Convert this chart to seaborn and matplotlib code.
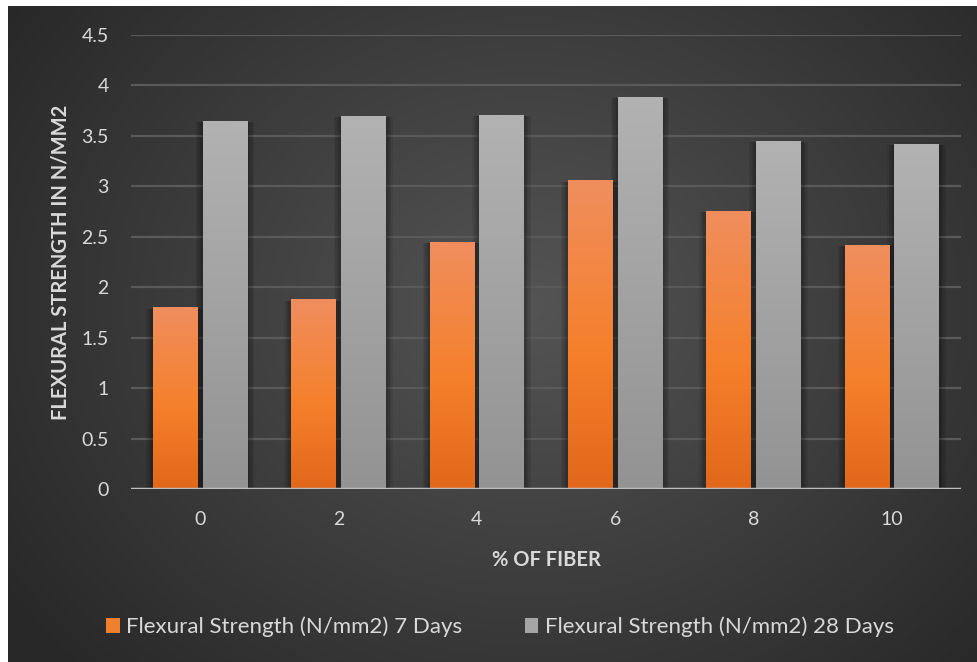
import numpy as np
import pandas as pd
import matplotlib
matplotlib.use("Agg")
import matplotlib.pyplot as plt
import matplotlib.patheffects as pe
from matplotlib.colors import LinearSegmentedColormap
from matplotlib.patches import Patch
import seaborn as sns

fiber = ["0", "2", "4", "6", "8", "10"]
days7 = [1.80, 1.88, 2.45, 3.06, 2.76, 2.42]
days28 = [3.65, 3.70, 3.71, 3.89, 3.45, 3.42]
series = ["Flexural Strength (N/mm2) 7 Days", "Flexural Strength (N/mm2) 28 Days"]
yticks = [0, 0.5, 1, 1.5, 2, 2.5, 3, 3.5, 4, 4.5]

df = pd.DataFrame({
    "fiber": fiber * 2,
    "value": days7 + days28,
    "series": [series[0]] * len(fiber) + [series[1]] * len(fiber),
})

sns.set_theme(style="white")
plt.rcParams["font.family"] = ["Lato", "DejaVu Sans"]

W, H = 978, 662
fig = plt.figure(figsize=(W / 100, H / 100), dpi=100, facecolor="white")

# radial dark background panel
bg = fig.add_axes([8 / W, 0, 970 / W, 656 / H])
bg.set_axis_off()
yy, xx = np.mgrid[0:656, 0:970]
cx, cy = 520, 300
r = np.sqrt(((xx - cx) / 620) ** 2 + ((yy - cy) / 520) ** 2)
shade = np.clip(0.33 - 0.17 * r, 0.16, 0.33)
bg.imshow(np.dstack([shade] * 3), aspect="auto", extent=[0, 1, 0, 1], origin="upper")
bg.set_xlim(0, 1)
bg.set_ylim(0, 1)

ax = fig.add_axes([131 / W, (H - 489) / H, 830 / W, (489 - 35) / H])
ax.patch.set_alpha(0)

palette = {series[0]: "#F07F2E", series[1]: "#A5A5A5"}
sns.barplot(data=df, x="fiber", y="value", hue="series", order=fiber,
            hue_order=series, palette=palette, width=0.72, gap=0.1,
            saturation=1, ax=ax, legend=False, zorder=3,
            edgecolor="none", linewidth=0)

orange_cmap = LinearSegmentedColormap.from_list(
    "og", [(0.0, "#E2671A"), (0.45, "#F5802B"), (1.0, "#F08E5E")])
gray_cmap = LinearSegmentedColormap.from_list(
    "gg", [(0.0, "#939393"), (1.0, "#B2B2B2")])

# soft glow-like shadow around each bar
soft_shadow = []
for d in (1, 2, 3, 4, 5):
    for sx in (-d, d):
        soft_shadow.append(pe.SimplePatchShadow(offset=(sx, -1), shadow_rgbFace="black",
                                                alpha=0.07))
soft_shadow.append(pe.Normal())

grad = np.linspace(0, 1, 256).reshape(-1, 1)
for i, bar in enumerate(ax.patches):
    x0, y0 = bar.get_x(), bar.get_y()
    w, h = bar.get_width(), bar.get_height()
    if h <= 0:
        continue
    cmap = orange_cmap if i < len(fiber) else gray_cmap
    bar.set_edgecolor("none")
    bar.set_linewidth(0)
    bar.set_path_effects(soft_shadow)
    im = ax.imshow(grad, cmap=cmap, aspect="auto", origin="lower",
                   extent=[x0, x0 + w, y0, y0 + h], zorder=4)
    im.set_clip_path(bar)

ax.set_xlim(-0.5, len(fiber) - 0.5)
ax.set_ylim(0, 4.5)
ax.set_yticks(yticks)
ax.set_yticklabels([f"{v:g}" for v in yticks])

for y in yticks[1:]:
    ax.axhline(y, color="#5A5A5A", lw=1.6, zorder=1)
ax.axhline(0, color="#BDBDBD", lw=2.5, zorder=5)

for s in ax.spines.values():
    s.set_visible(False)

tick_color = "#D9D9D9"
ax.tick_params(axis="y", length=0, pad=16, labelsize=14, labelcolor=tick_color)
ax.tick_params(axis="x", length=0, pad=16, labelsize=14, labelcolor=tick_color)

ax.set_xlabel("% OF FIBER", fontsize=14.5, fontweight="bold", color=tick_color, labelpad=16)
ax.set_ylabel("FLEXURAL STRENGTH IN N/MM2", fontsize=14.5, fontweight="bold",
              color=tick_color, labelpad=8)

handles = [Patch(facecolor="#F07F2E", edgecolor="none"),
           Patch(facecolor="#A5A5A5", edgecolor="none")]
fig.legend(handles, series, loc="center", bbox_to_anchor=(500 / W, (H - 627) / H),
           ncol=2, frameon=False, fontsize=16, labelcolor=tick_color,
           handlelength=0.6, handleheight=0.6, handletextpad=0.3, columnspacing=2.8)

fig.savefig("out.png", dpi=100, facecolor="white")
